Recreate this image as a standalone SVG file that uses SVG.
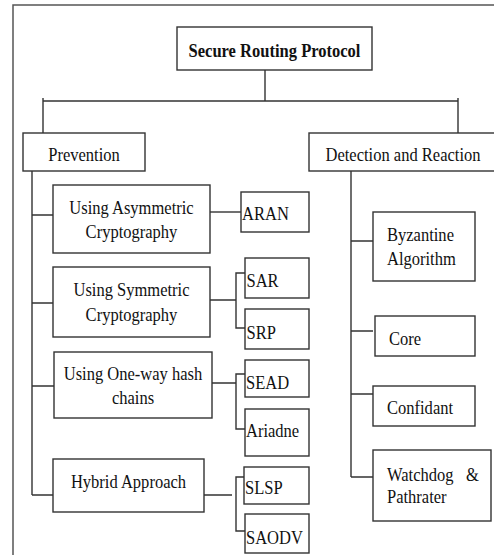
<svg xmlns="http://www.w3.org/2000/svg" width="494" height="555" viewBox="0 0 494 555">
<style>
.bx{fill:#fff;stroke:#333;stroke-width:1.4}
.ln{fill:none;stroke:#333;stroke-width:1.4}
.fr{fill:none;stroke:#555;stroke-width:1.5}
text{font-family:"Liberation Serif","Times New Roman",serif;font-size:19px;fill:#111;transform-box:fill-box;transform:scaleX(0.87);transform-origin:left}
.c{text-anchor:middle;transform-origin:center}
.b{font-weight:bold}
</style>
<rect width="494" height="555" fill="#fff"/>
<path class="fr" d="M13,555 V5 H494"/>
<g id="connectors">
<path class="ln" d="M265,70 V101 M43,98 V133 M43,101 H458 M458,98 V133"/>
<path class="ln" d="M32,168 V495 M32,215 H53 M32,303 H53 M32,386 H54 M32,495 H53"/>
<path class="ln" d="M210,212 H241"/>
<path class="ln" d="M210,300 H236 M245,273 H236 V328 H245"/>
<path class="ln" d="M212,383 H236 M245,374 H236 V429 H245"/>
<path class="ln" d="M204,495 H232 M245,477 H236 V531 H245"/>
<path class="ln" d="M351,171 V477 M351,241 H373 M351,331 H373 M351,394 H373 M351,477 H373"/>
</g>
<g id="root"><rect class="bx" x="177" y="27" width="195" height="43"/><text class="c b" x="274.5" y="57">Secure Routing Protocol</text></g>
<g id="prevention"><rect class="bx" x="23" y="133" width="122" height="38"/><text class="c" x="84" y="161">Prevention</text></g>
<g id="detection"><rect class="bx" x="309" y="133" width="190" height="38"/><text class="c" x="403" y="161">Detection and Reaction</text></g>
<g id="asym"><rect class="bx" x="53" y="185" width="157" height="68"/><text class="c" x="131.5" y="214">Using Asymmetric</text><text class="c" x="131.5" y="238">Cryptography</text></g>
<g id="aran"><rect class="bx" x="241" y="192" width="68" height="40"/><text x="242" y="220">ARAN</text></g>
<g id="sym"><rect class="bx" x="53" y="267" width="157" height="70"/><text class="c" x="131.5" y="296">Using Symmetric</text><text class="c" x="131.5" y="321">Cryptography</text></g>
<g id="sar"><rect class="bx" x="245" y="258" width="64" height="40"/><text x="246.5" y="287">SAR</text></g>
<g id="srp"><rect class="bx" x="245" y="309" width="64" height="40"/><text x="246.5" y="339">SRP</text></g>
<g id="oneway"><rect class="bx" x="54" y="352" width="158" height="66"/><text class="c" x="133" y="380">Using One-way hash</text><text class="c" x="133" y="404">chains</text></g>
<g id="sead"><rect class="bx" x="245" y="360" width="64" height="37"/><text x="246" y="389">SEAD</text></g>
<g id="ariadne"><rect class="bx" x="245" y="409" width="64" height="47"/><text x="246" y="437">Ariadne</text></g>
<g id="hybrid"><rect class="bx" x="53" y="459" width="151" height="53"/><text class="c" x="128.5" y="488">Hybrid Approach</text></g>
<g id="slsp"><rect class="bx" x="244" y="467" width="65" height="37"/><text x="245" y="494">SLSP</text></g>
<g id="saodv"><rect class="bx" x="245" y="514" width="64" height="39"/><text x="246" y="544">SAODV</text></g>
<g id="byzantine"><rect class="bx" x="373" y="212" width="102" height="69"/><text x="387" y="241">Byzantine</text><text x="387" y="265">Algorithm</text></g>
<g id="core"><rect class="bx" x="375" y="316" width="100" height="40"/><text x="389" y="345">Core</text></g>
<g id="confidant"><rect class="bx" x="373" y="386" width="102" height="40"/><text x="387" y="414">Confidant</text></g>
<g id="watchdog"><rect class="bx" x="373" y="450" width="118" height="71"/><text x="387" y="481">Watchdog</text><text x="466" y="481">&amp;</text><text x="387" y="503">Pathrater</text></g>
</svg>
